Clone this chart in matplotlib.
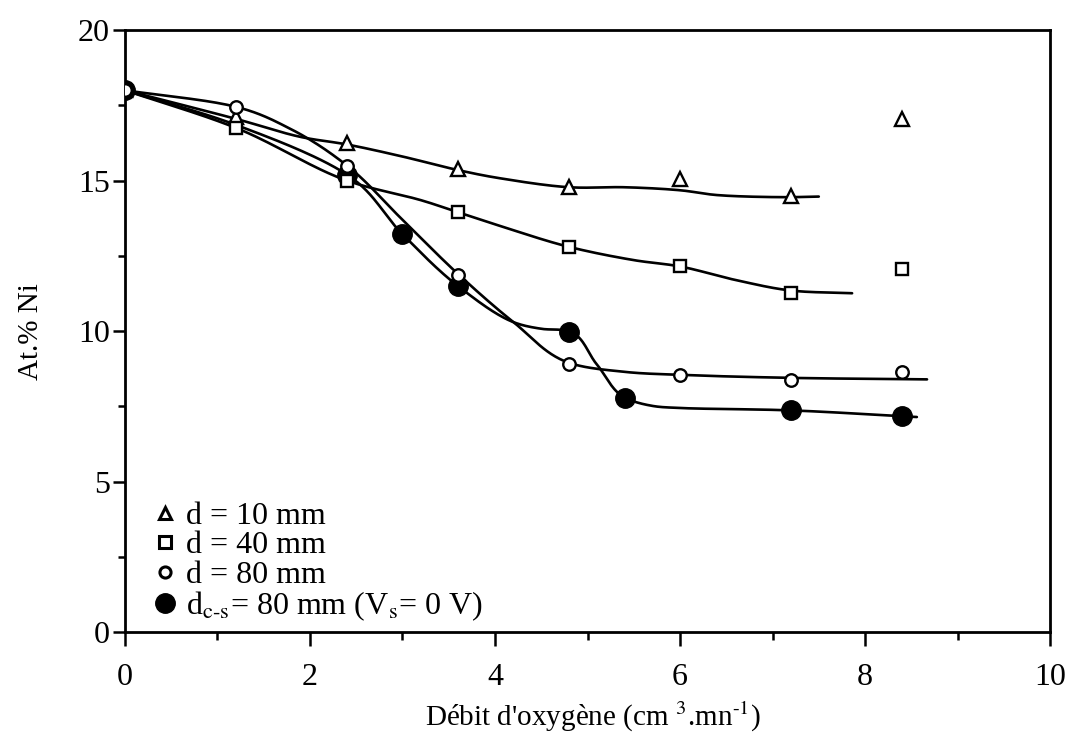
import numpy as np
import matplotlib
matplotlib.use("Agg")
import matplotlib.pyplot as plt
from matplotlib.lines import Line2D

# ---- data ----
x_tri = [0, 1.2, 2.4, 3.6, 4.8, 6.0, 7.2, 8.4]
y_tri = [18.0, 17.1, 16.25, 15.4, 14.8, 15.05, 14.5, 17.05]

x_sq = [0, 1.2, 2.4, 3.6, 4.8, 6.0, 7.2, 8.4]
y_sq = [18.0, 16.74, 14.98, 13.95, 12.79, 12.16, 11.26, 12.05]

x_oc = [0, 1.2, 2.4, 3.6, 4.8, 6.0, 7.2, 8.4]
y_oc = [18.0, 17.45, 15.5, 11.88, 8.92, 8.55, 8.37, 8.64]

x_fc = [0, 2.4, 3.0, 3.6, 4.8, 5.4, 7.2, 8.4]
y_fc = [18.0, 15.2, 13.22, 11.5, 9.98, 7.78, 7.38, 7.2]

# hand-drawn fit curves
fit_tri_x = [0, 1.2, 1.9, 2.4, 3.0, 3.6, 4.05, 4.8, 5.4, 6.0, 6.4, 7.1, 7.5]
fit_tri_y = [18.0, 17.05, 16.45, 16.2, 15.8, 15.35, 15.08, 14.78, 14.78, 14.68, 14.52, 14.45, 14.47]

fit_sq_x = [0, 1.2, 2.4, 3.2, 3.6, 4.05, 4.8, 5.5, 6.0, 6.6, 7.2, 7.86]
fit_sq_y = [18.0, 16.75, 15.0, 14.35, 13.95, 13.5, 12.8, 12.36, 12.15, 11.7, 11.35, 11.26]

fit_oc_x = [0, 1.2, 1.8, 2.4, 3.0, 3.6, 4.2, 4.8, 5.4, 6.0, 7.2, 8.67]
fit_oc_y = [18.0, 17.45, 16.7, 15.5, 13.7, 11.9, 10.3, 8.95, 8.65, 8.55, 8.45, 8.4]

fit_fc_x = [0, 1.2, 2.4, 3.0, 3.6, 4.2, 4.5, 4.8, 5.1, 5.4, 5.7, 6.0, 7.2, 8.56]
fit_fc_y = [18.0, 16.85, 15.2, 13.22, 11.5, 10.3, 10.08, 10.0, 8.9, 7.8, 7.52, 7.45, 7.37, 7.15]

labels = ["d = 10 mm", "d = 40 mm", "d = 80 mm",
          r"d$_{\mathrm{c\text{-}s}}$= 80 mm (V$_{\mathrm{s}}$= 0 V)"]
x_ticks = [0, 2, 4, 6, 8, 10]
y_ticks = [0, 5, 10, 15, 20]
x_label = r"Débit d'oxygène (cm $^{3}$.mn$^{\text{-}1}$)"
y_label = "At.% Ni"


def smooth(xs, ys, n=30):
    """Centripetal Catmull-Rom curve through the given points."""
    P = np.column_stack([xs, ys]).astype(float)
    P = np.vstack([2 * P[0] - P[1], P, 2 * P[-1] - P[-2]])
    out = []
    for i in range(1, len(P) - 2):
        p0, p1, p2, p3 = P[i - 1], P[i], P[i + 1], P[i + 2]
        t0 = 0.0
        t1 = t0 + np.linalg.norm(p1 - p0) ** 0.5
        t2 = t1 + np.linalg.norm(p2 - p1) ** 0.5
        t3 = t2 + np.linalg.norm(p3 - p2) ** 0.5
        t = np.linspace(t1, t2, n)[:, None]
        a1 = (t1 - t) / (t1 - t0) * p0 + (t - t0) / (t1 - t0) * p1
        a2 = (t2 - t) / (t2 - t1) * p1 + (t - t1) / (t2 - t1) * p2
        a3 = (t3 - t) / (t3 - t2) * p2 + (t - t2) / (t3 - t2) * p3
        b1 = (t2 - t) / (t2 - t0) * a1 + (t - t0) / (t2 - t0) * a2
        b2 = (t3 - t) / (t3 - t1) * a2 + (t - t1) / (t3 - t1) * a3
        c = (t2 - t) / (t2 - t1) * b1 + (t - t1) / (t2 - t1) * b2
        out.append(c if i == 1 else c[1:])
    C = np.vstack(out)
    return C[:, 0], C[:, 1]


plt.rcParams['font.family'] = ['Liberation Serif', 'DejaVu Serif']
plt.rcParams['mathtext.fontset'] = 'stix'

fig = plt.figure(figsize=(10.77, 7.51), dpi=100)
ax = fig.add_axes([0.116, 0.158, 0.859, 0.802])

lw = 1.9
for fx, fy in [(fit_tri_x, fit_tri_y), (fit_sq_x, fit_sq_y),
               (fit_oc_x, fit_oc_y), (fit_fc_x, fit_fc_y)]:
    sx, sy = smooth(fx, fy)
    ax.plot(sx, sy, color='black', lw=lw, zorder=2, solid_capstyle='round')

mew = 1.7
ax.plot(x_fc, y_fc, ls='none', marker='o', ms=14, mfc='black', mec='black', zorder=3)
ax.plot(x_tri, y_tri, ls='none', marker='^', ms=9.5, mfc='white', mec='black', mew=mew, zorder=4)
ax.plot(x_sq, y_sq, ls='none', marker='s', ms=9, mfc='white', mec='black', mew=mew, zorder=4)
ax.plot(x_oc, y_oc, ls='none', marker='o', ms=9, mfc='white', mec='black', mew=mew, zorder=4)

handles = [
    Line2D([], [], ls='none', marker='^', ms=9, mfc='white', mec='black', mew=2.2),
    Line2D([], [], ls='none', marker='s', ms=8, mfc='white', mec='black', mew=2.2),
    Line2D([], [], ls='none', marker='o', ms=8, mfc='white', mec='black', mew=2.2),
    Line2D([], [], ls='none', marker='o', ms=14, mfc='black', mec='black'),
]
ax.legend(handles, labels, loc='lower left', bbox_to_anchor=(0.028, 0.015),
          frameon=False, fontsize=23, handlelength=0.9, handletextpad=0.2,
          labelspacing=0.0, borderpad=0, borderaxespad=0)

ax.set_xlim(0, 10)
ax.set_ylim(0, 20)
ax.set_xticks(x_ticks)
ax.set_yticks(y_ticks)
ax.set_xticks(np.arange(1, 10, 2), minor=True)
ax.set_yticks(np.arange(2.5, 20, 5), minor=True)
ax.tick_params(axis='x', which='major', direction='out', length=10, width=1.8,
               labelsize=23, pad=12)
ax.tick_params(axis='x', which='minor', direction='out', length=6, width=1.8)
ax.tick_params(axis='y', which='major', direction='out', length=9, width=1.8,
               labelsize=23, pad=2)
ax.tick_params(axis='y', which='minor', direction='out', length=5, width=1.8)
ax.tick_params(top=False, right=False, which='both')
for s in ax.spines.values():
    s.set_linewidth(2.0)

ax.set_xlabel(x_label, fontsize=21)
ax.set_ylabel(y_label, fontsize=21)
ax.xaxis.set_label_coords(0.506, -0.112)
ax.yaxis.set_label_coords(-0.088, 0.5)

fig.savefig("out.png", dpi=100, facecolor='white')
